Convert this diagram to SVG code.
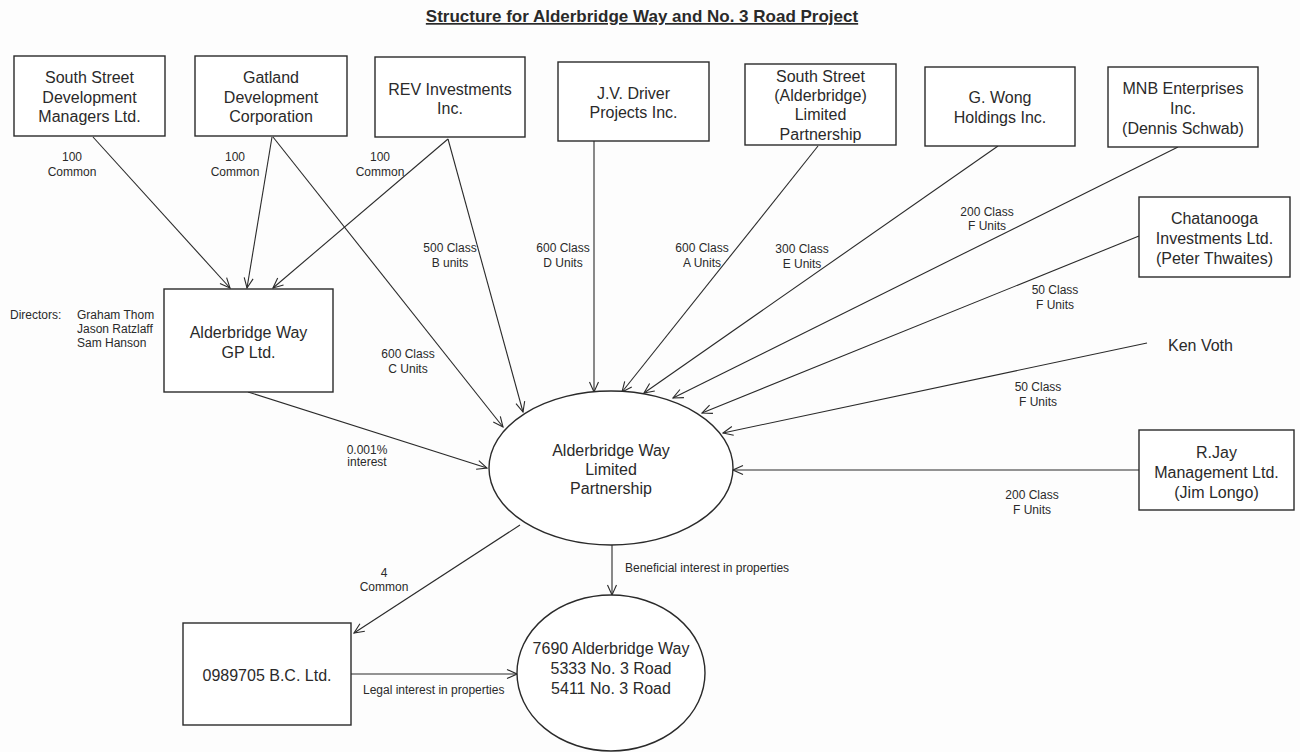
<svg xmlns="http://www.w3.org/2000/svg" width="1300" height="752" viewBox="0 0 1300 752">
<style>
.bg{fill:#fdfdfd}
.box{fill:#fff;stroke:#2a2a2a;stroke-width:1.4}
.t{font-family:"Liberation Sans",Arial,sans-serif;font-size:16px;fill:#2a2a2a;text-anchor:middle}
.s{font-family:"Liberation Sans",Arial,sans-serif;font-size:12px;fill:#2a2a2a;text-anchor:middle}
.sl{font-family:"Liberation Sans",Arial,sans-serif;font-size:12px;fill:#2a2a2a}
.title{font-family:"Liberation Sans",Arial,sans-serif;font-size:17px;font-weight:bold;fill:#2a2a2a;text-anchor:middle;text-decoration:underline}
.c{stroke:#2a2a2a;stroke-width:1.1;fill:none;marker-end:url(#arr)}
</style>
<defs>
<marker id="arr" viewBox="0 0 12 12" refX="11" refY="6" markerWidth="12" markerHeight="12" markerUnits="userSpaceOnUse" orient="auto">
<path d="M1,1.5 L11,6 L1,10.5" fill="none" stroke="#2a2a2a" stroke-width="1.1"/>
</marker>
</defs>
<rect class="bg" x="0" y="0" width="1300" height="752"/>
<text class="title" x="642" y="22">Structure for Alderbridge Way and No. 3 Road Project</text>

<g id="connectors">
<line class="c" x1="93" y1="137" x2="230" y2="288"/>
<line class="c" x1="272" y1="137" x2="247" y2="288"/>
<line class="c" x1="448" y1="139" x2="273" y2="288"/>
<line class="c" x1="273" y1="137" x2="503" y2="427"/>
<line class="c" x1="448" y1="139" x2="523" y2="412"/>
<line class="c" x1="594" y1="141" x2="594" y2="392"/>
<line class="c" x1="818" y1="146" x2="622" y2="392"/>
<line class="c" x1="998" y1="146" x2="644" y2="393"/>
<line class="c" x1="1178" y1="147" x2="673" y2="398"/>
<line class="c" x1="1139" y1="236" x2="702" y2="413"/>
<line class="c" x1="1147" y1="343" x2="723" y2="433"/>
<line class="c" x1="1139" y1="470" x2="733" y2="470"/>
<line class="c" x1="248" y1="392" x2="487" y2="468"/>
<line class="c" x1="612" y1="545" x2="612" y2="595"/>
<line class="c" x1="520" y1="525" x2="354" y2="633"/>
<line class="c" x1="351" y1="674" x2="517" y2="674"/>
<text class="s" x="72" y="161">100</text><text class="s" x="72" y="176">Common</text>
<text class="s" x="235" y="161">100</text><text class="s" x="235" y="176">Common</text>
<text class="s" x="380" y="161">100</text><text class="s" x="380" y="176">Common</text>
<text class="s" x="450" y="252">500 Class</text><text class="s" x="450" y="267">B units</text>
<text class="s" x="563" y="252">600 Class</text><text class="s" x="563" y="267">D Units</text>
<text class="s" x="702" y="252">600 Class</text><text class="s" x="702" y="267">A Units</text>
<text class="s" x="802" y="253">300 Class</text><text class="s" x="802" y="268">E Units</text>
<text class="s" x="408" y="358">600 Class</text><text class="s" x="408" y="373">C Units</text>
<text class="s" x="367" y="454">0.001%</text><text class="s" x="367" y="466">interest</text>
<text class="s" x="987" y="216">200 Class</text><text class="s" x="987" y="230">F Units</text>
<text class="s" x="1055" y="294">50 Class</text><text class="s" x="1055" y="309">F Units</text>
<text class="s" x="1038" y="391">50 Class</text><text class="s" x="1038" y="406">F Units</text>
<text class="s" x="1032" y="499">200 Class</text><text class="s" x="1032" y="514">F Units</text>
<text class="sl" x="625" y="572">Beneficial interest in properties</text>
<text class="s" x="384" y="577">4</text><text class="s" x="384" y="591">Common</text>
<text class="sl" x="363" y="694">Legal interest in properties</text>
</g>

<g id="n-ssdm">
<rect class="box" x="14" y="56" width="151" height="80"/>
<text class="t" x="89.5" y="83">South Street</text>
<text class="t" x="89.5" y="103">Development</text>
<text class="t" x="89.5" y="122">Managers Ltd.</text>
</g>
<g id="n-gatland">
<rect class="box" x="195" y="56" width="152" height="80"/>
<text class="t" x="271" y="83">Gatland</text>
<text class="t" x="271" y="103">Development</text>
<text class="t" x="271" y="122">Corporation</text>
</g>
<g id="n-rev">
<rect class="box" x="375" y="57" width="150" height="80"/>
<text class="t" x="450" y="95">REV Investments</text>
<text class="t" x="450" y="114">Inc.</text>
</g>
<g id="n-jv">
<rect class="box" x="558" y="62" width="151" height="79"/>
<text class="t" x="633.5" y="99">J.V. Driver</text>
<text class="t" x="633.5" y="118">Projects Inc.</text>
</g>
<g id="n-ssalp">
<rect class="box" x="745" y="64" width="151" height="81"/>
<text class="t" x="820.5" y="82">South Street</text>
<text class="t" x="820.5" y="101">(Alderbridge)</text>
<text class="t" x="820.5" y="120">Limited</text>
<text class="t" x="820.5" y="140">Partnership</text>
</g>
<g id="n-gwong">
<rect class="box" x="925" y="67" width="150" height="79"/>
<text class="t" x="1000" y="103">G. Wong</text>
<text class="t" x="1000" y="123">Holdings Inc.</text>
</g>
<g id="n-mnb">
<rect class="box" x="1108" y="67" width="150" height="80"/>
<text class="t" x="1183" y="94">MNB Enterprises</text>
<text class="t" x="1183" y="114">Inc.</text>
<text class="t" x="1183" y="134">(Dennis Schwab)</text>
</g>
<g id="n-chatanooga">
<rect class="box" x="1139" y="197" width="151" height="80"/>
<text class="t" x="1214.5" y="224">Chatanooga</text>
<text class="t" x="1214.5" y="244">Investments Ltd.</text>
<text class="t" x="1214.5" y="264">(Peter Thwaites)</text>
</g>
<g id="n-kenvoth">
<text class="t" x="1168" y="351" style="text-anchor:start">Ken Voth</text>
</g>
<g id="n-rjay">
<rect class="box" x="1139" y="430" width="155" height="80"/>
<text class="t" x="1216.5" y="458">R.Jay</text>
<text class="t" x="1216.5" y="478">Management Ltd.</text>
<text class="t" x="1216.5" y="498">(Jim Longo)</text>
</g>
<g id="n-gp">
<rect class="box" x="164" y="289" width="169" height="103"/>
<text class="t" x="248.5" y="338">Alderbridge Way</text>
<text class="t" x="248.5" y="358">GP Ltd.</text>
<text class="sl" x="10" y="319">Directors:</text>
<text class="sl" x="77" y="319">Graham Thom</text>
<text class="sl" x="77" y="333">Jason Ratzlaff</text>
<text class="sl" x="77" y="347">Sam Hanson</text>
</g>
<g id="n-lp">
<ellipse class="box" cx="611" cy="468" rx="122" ry="77"/>
<text class="t" x="611" y="456">Alderbridge Way</text>
<text class="t" x="611" y="475">Limited</text>
<text class="t" x="611" y="494">Partnership</text>
</g>
<g id="n-bc">
<rect class="box" x="183" y="623" width="168" height="102"/>
<text class="t" x="267" y="681">0989705 B.C. Ltd.</text>
</g>
<g id="n-props">
<ellipse class="box" cx="611" cy="673" rx="94" ry="78"/>
<text class="t" x="611" y="654">7690 Alderbridge Way</text>
<text class="t" x="611" y="674">5333 No. 3 Road</text>
<text class="t" x="611" y="694">5411 No. 3 Road</text>
</g>
</svg>
